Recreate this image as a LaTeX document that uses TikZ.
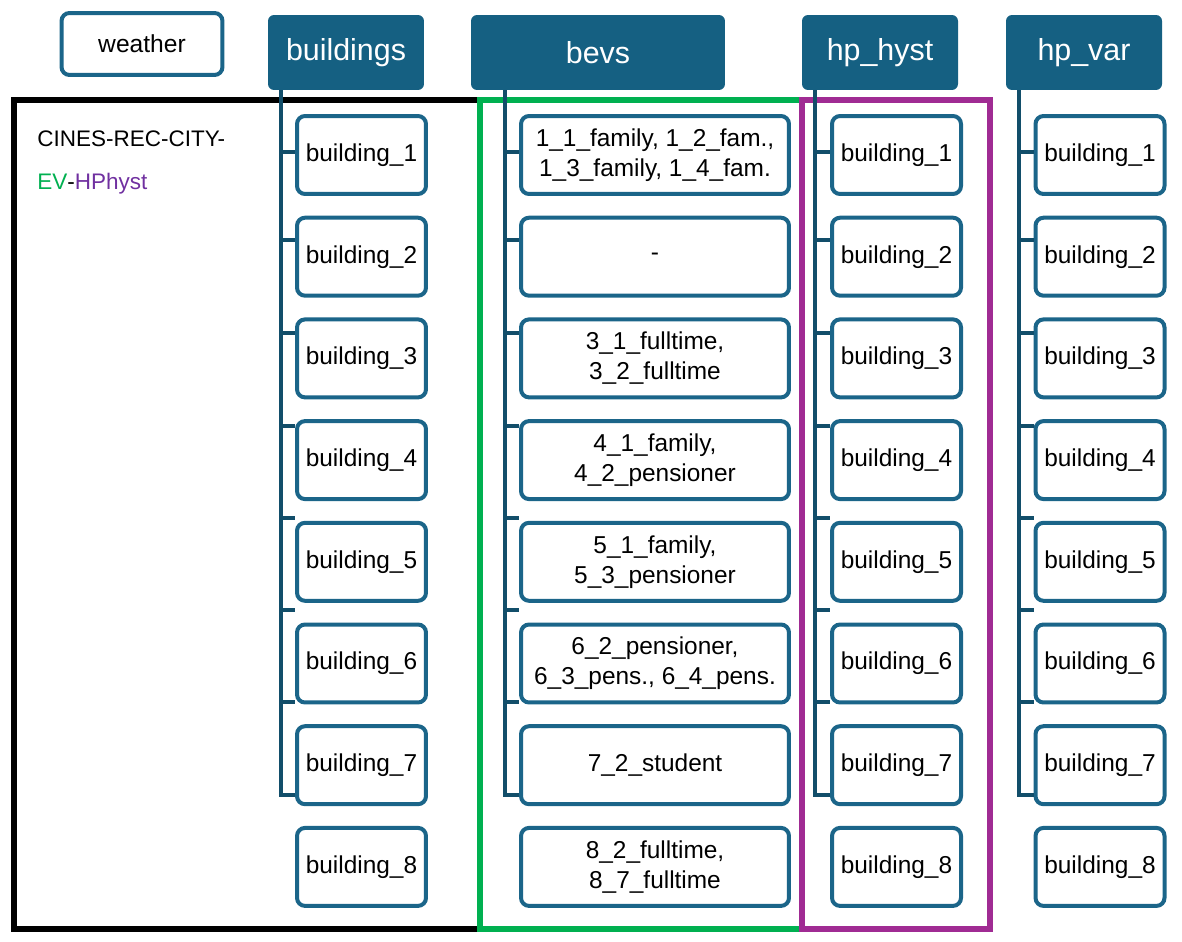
\documentclass[tikz,border=0pt]{standalone}
\usepackage{fontspec}
\setmainfont{Liberation Sans}
\usepackage{tikz}
\usetikzlibrary{positioning}
\definecolor{hblue}{HTML}{156082}
\definecolor{bblue}{HTML}{1B6589}
\definecolor{tblue}{HTML}{124E6A}
\definecolor{mgreen}{HTML}{00B050}
\definecolor{mpurple}{HTML}{A02B93}
\definecolor{tpurple}{HTML}{7030A0}
\tikzset{head/.style = {fill = hblue, text = white, rounded corners = 0.12cm, minimum height = 1.5cm, inner sep = 0, font = \fontsize{17.3}{20}\selectfont}}
\tikzset{leaf/.style = {draw = bblue, fill = white, line width = 0.08cm, rounded corners = 0.16cm, minimum height = 1.56cm, minimum width = 2.58cm, inner sep = 0, align = center, font = \fontsize{13.9}{17}\selectfont}}
\tikzset{trunk/.style = {draw = tblue, line width = 0.08cm}}
\tikzset{frame/.style = {line width = 0.12cm}}

\begin{document}
\begin{tikzpicture}[x = 0.02cm, y = -0.02cm]
    \useasboundingbox (0, 0) rectangle (1182, 942);
    % outer frames
    \draw [frame, black] (14, 100) rectangle (480, 929);
    \draw [frame, mgreen] (480, 100) rectangle (802, 929);
    \draw [frame, mpurple] (802, 100) rectangle (990, 929);
    \node [leaf, minimum width = 3.22cm, minimum height = 1.24cm, font = \fontsize{14}{17}\selectfont] (weather) at (142, 44) {weather};
    \node [anchor = base west, inner sep = 0, font = \fontsize{12.8}{15}\selectfont] (title) at (37, 147) {CINES-REC-CITY-};
    \node [anchor = base west, inner sep = 0, font = \fontsize{12.8}{15}\selectfont] (subtitle) at (37, 190) {\textcolor{mgreen}{EV}-\textcolor{tpurple}{HPhyst}};
    % headers
    \node [head, minimum width = 3.12cm] (hd-bld) at (346, 52.5) {buildings};
    \node [head, minimum width = 5.08cm] (hd-bev) at (598, 52.5) {bevs};
    \node [head, minimum width = 3.12cm] (hd-hys) at (880, 52.5) {hp\_hyst};
    \node [head, minimum width = 3.12cm] (hd-var) at (1084, 52.5) {hp\_var};
    % building boxes
    \foreach \k in {1,...,8}{
      \pgfmathsetmacro{\y}{155 + (\k - 1) * 101.7}
      \node [leaf] (bld-\k) at (361.5, \y) {building\_\k};
      \node [leaf] (hys-\k) at (896.5, \y) {building\_\k};
      \node [leaf] (var-\k) at (1100, \y) {building\_\k};
    }
    % bevs boxes
    \node [leaf, minimum width = 5.36cm] (bev-1) at (655, 155) {1\_1\_family, 1\_2\_fam.,\\1\_3\_family, 1\_4\_fam.};
    \node [leaf, minimum width = 5.36cm] (bev-2) at (655, 256.7) {-};
    \node [leaf, minimum width = 5.36cm] (bev-3) at (655, 358.4) {3\_1\_fulltime,\\3\_2\_fulltime};
    \node [leaf, minimum width = 5.36cm] (bev-4) at (655, 460.1) {4\_1\_family,\\4\_2\_pensioner};
    \node [leaf, minimum width = 5.36cm] (bev-5) at (655, 561.8) {5\_1\_family,\\5\_3\_pensioner};
    \node [leaf, minimum width = 5.36cm] (bev-6) at (655, 663.5) {6\_2\_pensioner,\\6\_3\_pens., 6\_4\_pens.};
    \node [leaf, minimum width = 5.36cm] (bev-7) at (655, 765.2) {7\_2\_student};
    \node [leaf, minimum width = 5.36cm] (bev-8) at (655, 866.9) {8\_2\_fulltime,\\8\_7\_fulltime};
    % trunks
    \foreach \c/\tx in {bld/281, bev/505, hys/815, var/1019}{
      \draw [trunk] (hd-\c.south -| \tx, 0) -- (\tx, 795) -- (\c-8.west |- 0, 795);
      \foreach \k/\ty in {1/152, 2/240, 3/333, 4/426, 5/518, 6/610, 7/702}{
        \draw [trunk] (\tx, \ty) -- (\c-\k.west |- 0, \ty);
      }
    }
\end{tikzpicture}
\end{document}
